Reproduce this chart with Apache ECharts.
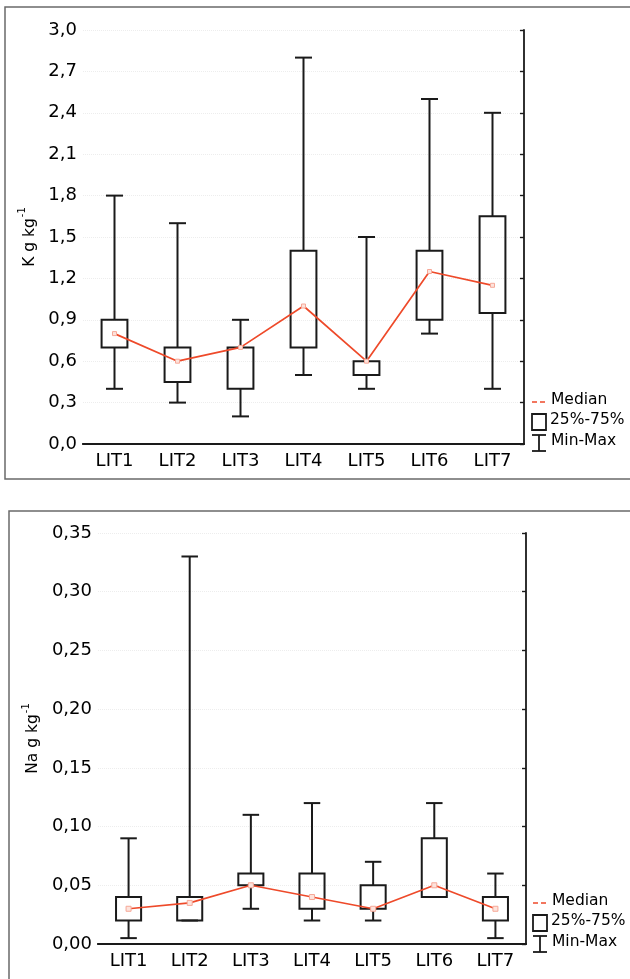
<!DOCTYPE html>
<html>
<head>
<meta charset="utf-8">
<script src="https://cdn.jsdelivr.net/npm/echarts@6/dist/echarts.min.js"></script>
<style>
html,body{margin:0;padding:0;background:#fff;}
#chart{width:630px;height:979px;}
</style>
</head>
<body>
<div id="chart"></div>
<script>
// ---- data ----
var categories = ['LIT1','LIT2','LIT3','LIT4','LIT5','LIT6','LIT7'];

// K g kg-1 : min, Q1, median, Q3, max
var kMin    = [0.40, 0.30, 0.20, 0.50, 0.40, 0.80, 0.40];
var kQ1     = [0.70, 0.45, 0.40, 0.70, 0.50, 0.90, 0.95];
var kMedian = [0.80, 0.60, 0.70, 1.00, 0.60, 1.25, 1.15];
var kQ3     = [0.90, 0.70, 0.70, 1.40, 0.60, 1.40, 1.65];
var kMax    = [1.80, 1.60, 0.90, 2.80, 1.50, 2.50, 2.40];

// Na g kg-1 : min, Q1, median, Q3, max
var naMin    = [0.005, 0.020, 0.030, 0.020, 0.020, 0.040, 0.005];
var naQ1     = [0.020, 0.020, 0.050, 0.030, 0.030, 0.040, 0.020];
var naMedian = [0.030, 0.035, 0.050, 0.040, 0.030, 0.050, 0.030];
var naQ3     = [0.040, 0.040, 0.060, 0.060, 0.050, 0.090, 0.040];
var naMax    = [0.090, 0.330, 0.110, 0.120, 0.070, 0.120, 0.060];

var kTickLabels  = ['0,0','0,3','0,6','0,9','1,2','1,5','1,8','2,1','2,4','2,7','3,0'];
var naTickLabels = ['0,00','0,05','0,10','0,15','0,20','0,25','0,30','0,35'];

var legendLabels = ['Median','25%-75%','Min-Max'];

// ---- build ----
var FONT = 'DejaVu Sans';
var INK = '#1a1a1a';
var TXT = '#000';
var RED = '#ee4a2a';

function boxRows(mn, q1, md, q3, mx){
  return categories.map(function(c,i){ return [i, mn[i], q1[i], md[i], q3[i], mx[i]]; });
}

function renderBox(params, api){
  var x = api.value(0);
  var pMin = api.coord([x, api.value(1)]);
  var pQ1  = api.coord([x, api.value(2)]);
  var pQ3  = api.coord([x, api.value(4)]);
  var pMax = api.coord([x, api.value(5)]);
  var band = api.size([1,0])[0];
  var bw = band*0.41, cw = band*0.27;
  var cx = pQ1[0];
  var st = {stroke: INK, lineWidth: 2, fill: null};
  return {
    type:'group',
    children:[
      {type:'line', shape:{x1:cx,y1:pMax[1],x2:cx,y2:pQ3[1]}, style:st},
      {type:'line', shape:{x1:cx-cw/2,y1:pMax[1],x2:cx+cw/2,y2:pMax[1]}, style:st},
      {type:'line', shape:{x1:cx,y1:pQ1[1],x2:cx,y2:pMin[1]}, style:st},
      {type:'line', shape:{x1:cx-cw/2,y1:pMin[1],x2:cx+cw/2,y2:pMin[1]}, style:st},
      {type:'rect', shape:{x:cx-bw/2,y:pQ3[1],width:bw,height:pQ1[1]-pQ3[1]}, style:{stroke:INK,lineWidth:2,fill:'rgba(255,255,255,0)'}}
    ]
  };
}

function xAxes(gi){
  return [
    {type:'category', gridIndex:gi, data:categories, position:'bottom', boundaryGap:true,
     axisLine:{lineStyle:{color:INK,width:1.8}},
     axisTick:{alignWithLabel:true, inside:false, length:4, lineStyle:{color:INK,width:1.4}},
     axisLabel:{color:TXT, fontFamily:FONT, fontSize:18, margin:8},
     splitLine:{show:false}},
    {type:'category', gridIndex:gi, data:categories, position:'top', boundaryGap:true,
     axisLine:{lineStyle:{color:INK,width:1.8}},
     axisTick:{alignWithLabel:true, inside:true, length:4, lineStyle:{color:INK,width:1.4}},
     axisLabel:{show:false}, splitLine:{show:false}}
  ];
}

function yAxes(gi, max, interval, labels, dec, name){
  var fmt = function(v){ return labels[Math.round(v/interval)]; };
  return [
    {type:'value', gridIndex:gi, min:0, max:max, interval:interval, position:'left',
     name:name, nameLocation:'middle', nameRotate:90, nameGap: dec===1 ? 42 : 54,
     nameTextStyle:{color:TXT, rich:{
        a:{fontFamily:FONT, fontSize:15.5, color:TXT, lineHeight:20, verticalAlign:'bottom'},
        b:{fontFamily:FONT, fontSize:10, color:TXT, lineHeight:20, verticalAlign:'top', padding:[0,0,9,1]}
     }},
     axisLine:{lineStyle:{color:INK,width:1.8}},
     axisTick:{inside:true, length:4, lineStyle:{color:INK,width:1.4}},
     axisLabel:{color:TXT, fontFamily:FONT, fontSize:18, margin:6, formatter:fmt},
     splitLine:{show:true, lineStyle:{color:'#ededed', type:'dotted', width:1}}},
    {type:'value', gridIndex:gi, min:0, max:max, interval:interval, position:'right',
     axisLine:{show:true, lineStyle:{color:INK,width:1.8}},
     axisTick:{show:true, inside:true, length:4, lineStyle:{color:INK,width:1.4}},
     axisLabel:{show:false}, splitLine:{show:false}}
  ];
}

function legendGraphics(x, yMed, yBox, yWh){
  var tx = x + 19;
  var ts = {fill:TXT, font:'15.5px "'+FONT+'"', textVerticalAlign:'middle'};
  var ls = {stroke:INK, lineWidth:1.8};
  return [
    {type:'line', shape:{x1:x,y1:yMed,x2:x+15,y2:yMed}, style:{stroke:RED,lineWidth:1.6,lineDash:[5,3]}},
    {type:'text', left:tx, top:yMed-10, style:Object.assign({text:legendLabels[0]}, ts)},
    {type:'rect', shape:{x:x,y:yBox-8,width:14,height:16}, style:{stroke:INK,lineWidth:1.8,fill:'#fff'}},
    {type:'text', left:tx-1, top:yBox-10, style:Object.assign({text:legendLabels[1]}, ts)},
    {type:'line', shape:{x1:x+7,y1:yWh-8,x2:x+7,y2:yWh+8}, style:ls},
    {type:'line', shape:{x1:x,y1:yWh-8,x2:x+14,y2:yWh-8}, style:ls},
    {type:'line', shape:{x1:x,y1:yWh+8,x2:x+14,y2:yWh+8}, style:ls},
    {type:'text', left:tx, top:yWh-10, style:Object.assign({text:legendLabels[2]}, ts)}
  ];
}

var chart = echarts.init(document.getElementById('chart'), null, {renderer:'canvas'});

var option = {
  backgroundColor:'#fff',
  animation:false,
  grid:[
    {left:83, top:30, width:441, height:414},
    {left:98, top:533, width:428, height:411}
  ],
  xAxis: xAxes(0).concat(xAxes(1)),
  yAxis: yAxes(0, 3.0, 0.3, kTickLabels, 1, '{a|K g kg}{b|-1}')
         .concat(yAxes(1, 0.35, 0.05, naTickLabels, 2, '{a|Na g kg}{b|-1}')),
  series:[
    {type:'custom', xAxisIndex:0, yAxisIndex:0, data:boxRows(kMin,kQ1,kMedian,kQ3,kMax),
     encode:{x:0, y:[1,2,3,4,5]}, renderItem:renderBox, z:2},
    {type:'line', xAxisIndex:0, yAxisIndex:0, data:kMedian, z:5,
     lineStyle:{color:RED, width:1.7}, symbol:'rect', symbolSize:4,
     itemStyle:{color:'#fde3dc', borderColor:'#f6a898', borderWidth:1}},
    {type:'custom', xAxisIndex:2, yAxisIndex:2, data:boxRows(naMin,naQ1,naMedian,naQ3,naMax),
     encode:{x:0, y:[1,2,3,4,5]}, renderItem:renderBox, z:2},
    {type:'line', xAxisIndex:2, yAxisIndex:2, data:naMedian, z:5,
     lineStyle:{color:RED, width:1.7}, symbol:'rect', symbolSize:5,
     itemStyle:{color:'#fde3dc', borderColor:'#f6a898', borderWidth:1}}
  ],
  graphic: [
    {type:'rect', shape:{x:5,y:7,width:640,height:472}, style:{stroke:'#6a6a6a',lineWidth:1.5,fill:null}, z:-1},
    {type:'rect', shape:{x:9,y:511,width:640,height:500}, style:{stroke:'#6a6a6a',lineWidth:1.5,fill:null}, z:-1}
  ].concat(legendGraphics(532, 402, 422, 443))
   .concat(legendGraphics(533, 903, 923, 944))
};
chart.setOption(option);
</script>
</body>
</html>
